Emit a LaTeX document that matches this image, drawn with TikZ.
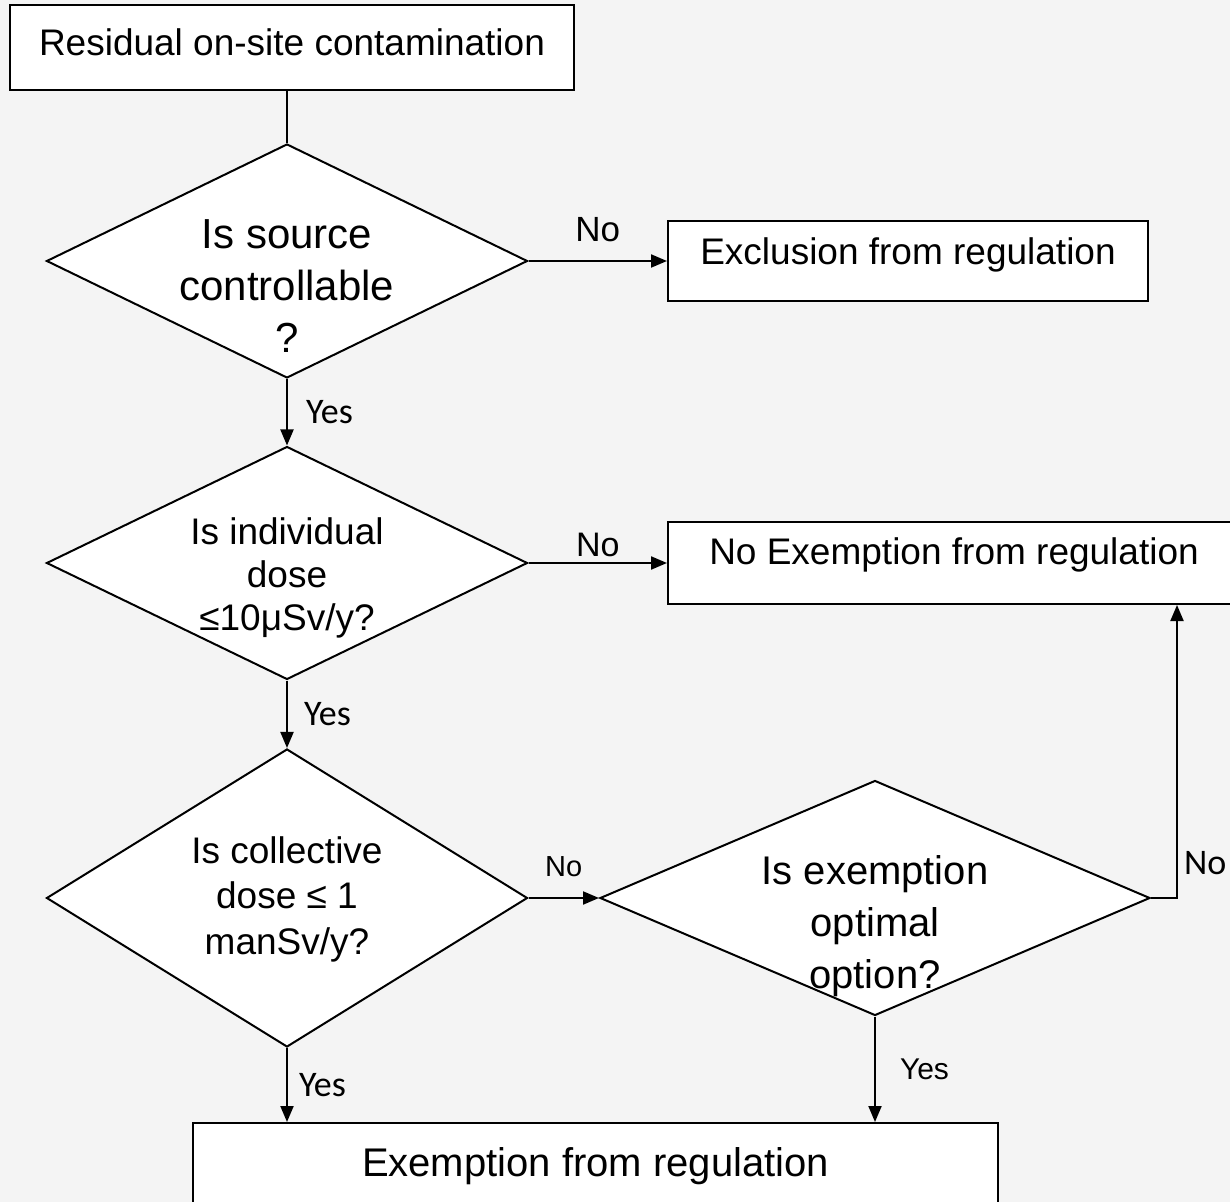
\documentclass[tikz,border=0pt]{standalone}
\usepackage{fontspec}
\setmainfont{Liberation Sans}
\newfontfamily\calfont{Carlito}
\usetikzlibrary{shapes.geometric, arrows.meta, positioning}
\definecolor{paper}{RGB}{244,244,244}

\begin{document}
\begin{tikzpicture}[
    x=0.5pt, y=-0.5pt,
    box/.style={rectangle, draw=black, fill=white, line width=1pt, align=center,
                font=\fontsize{18.5}{22}\selectfont, text height=14pt, inner sep=0pt},
    decision/.style={diamond, draw=black, fill=white, line width=1pt, inner sep=0pt},
    qtext/.style={align=center, inner sep=0pt},
    arr/.style={-{Triangle[length=8pt, width=6.5pt]}, line width=1pt},
    link/.style={line width=1pt},
    lbl/.style={inner sep=0pt, font=\fontsize{17.5}{20}\selectfont},
    yes/.style={inner sep=0pt, font=\calfont\fontsize{18}{20}\selectfont}
]
% background
\path[fill=paper, use as bounding box] (0,0) rectangle (1230,1202);
\clip (0,0) rectangle (1230,1202);

% boxes
\node[box, minimum width=282pt, minimum height=42.5pt, text depth=6.25pt] (res) at (292,47.5) {Residual on-site contamination};
\node[box, minimum width=240pt, minimum height=40pt, text depth=10.25pt] (excl) at (908,261) {Exclusion from regulation};
\node[box, minimum width=286pt, minimum height=41pt, text depth=12.25pt] (noex) at (954,563) {No Exemption from regulation};
\node[box, minimum width=402.5pt, minimum height=46pt, font=\fontsize{20}{24}\selectfont,
      text height=15pt, text depth=7.2pt] (exem) at (595.5,1169) {Exemption from regulation};

% decisions
\node[decision, minimum width=240.5pt, minimum height=117pt] (q1) at (287,261) {};
\node[qtext, font=\fontsize{21}{26}\selectfont] (q1t) at (287,286) {Is source\\controllable\\?};
\node[decision, minimum width=240.5pt, minimum height=116.5pt] (q2) at (287,563) {};
\node[qtext, font=\fontsize{18.5}{21.5}\selectfont] (q2t) at (287,578) {Is individual\\dose\\≤10μSv/y?};
\node[decision, minimum width=240.5pt, minimum height=149pt] (q3) at (287,898) {};
\node[qtext, font=\fontsize{18.5}{22.75}\selectfont] (q3t) at (287,899) {Is collective\\dose ≤ 1\\manSv/y?};
\node[decision, minimum width=275pt, minimum height=117.5pt] (q4) at (875,898) {};
\node[qtext, font=\fontsize{20}{26}\selectfont] (q4t) at (875,926) {Is exemption\\optimal\\option?};

% connectors
\draw[link] (q1.north |- res.south) -- (q1.north);
\draw[arr] (q1.east) -- node[lbl, above=9pt]{No} (excl.west);
\draw[arr] (q1) -- node[yes, right=9pt]{Yes} (q2);
\draw[arr] (q2.east) -- node[lbl, font=\fontsize{17}{20}\selectfont, above=2.5pt]{No} (noex.west);
\draw[arr] (q2) -- node[yes, right=8pt]{Yes} (q3);
\draw[arr] (q3.east) -- node[lbl, font=\fontsize{14.5}{17}\selectfont, above=10pt]{No} (q4.west);
\draw[arr] (q3.south) -- node[yes, right=5.5pt]{Yes} (q3.south |- exem.north);
\draw[arr] (q4.east) -| node[yes, pos=0.56, right=3pt]{No} ([xshift=111.5pt]noex.south);
\draw[arr] (q4.south) -- node[lbl, font=\fontsize{15}{18}\selectfont, right=12pt]{Yes} (q4.south |- exem.north);
\end{tikzpicture}
\end{document}
